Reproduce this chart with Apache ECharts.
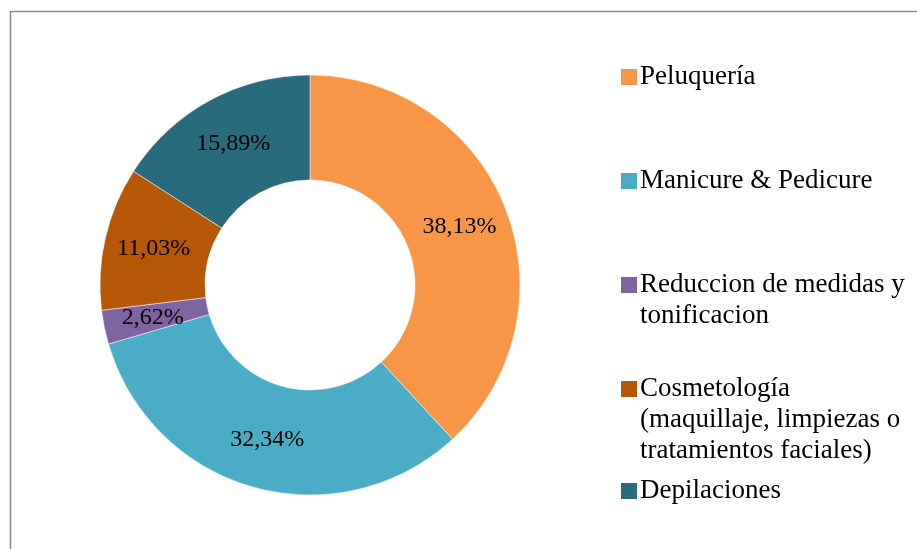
<!DOCTYPE html>
<html>
<head>
<meta charset="utf-8">
<script src="https://cdn.jsdelivr.net/npm/echarts@6/dist/echarts.min.js"></script>
<style>
  html, body {margin: 0; padding: 0; background: #fff;}
  #chart {width: 917px; height: 549px;}
</style>
</head>
<body>
<div id="chart"></div>
<script>
// categories, legend text (with line breaks as in the picture), values and colours
const categories = ['Peluquería', 'Manicure & Pedicure', 'Reduccion de medidas y tonificacion',
  'Cosmetología (maquillaje, limpiezas o tratamientos faciales)', 'Depilaciones']
const legendText = ['Peluquería', 'Manicure & Pedicure', 'Reduccion de medidas y\ntonificacion',
  'Cosmetología\n(maquillaje, limpiezas o\ntratamientos faciales)', 'Depilaciones']
const values = [38.13, 32.34, 2.62, 11.03, 15.89]
const colors = ['#F79646', '#4BACC6', '#8064A2', '#B65708', '#286B7C']
// vertical centre of each legend square
const legendY = [77, 181, 285, 389, 491]

const FONT = '"Times New Roman", "Liberation Serif", serif'
const LH = 31

const chart = echarts.init(document.getElementById('chart'))

// one legend per entry, so every square sits exactly where it is in the picture.
// blank lines are put above a wrapped text so that its first line is level with the square
const legends = categories.map((name, i) => {
	const lines = legendText[i].split('\n').length
	return {
		data: [name],
		orient: 'vertical',
		left: 619,
		top: legendY[i] - (2 * lines - 1) * LH / 2,
		padding: 0,
		itemWidth: 18,
		itemHeight: 18,
		itemGap: 0,
		icon: 'rect',
		selectedMode: false,
		formatter: () => '\n'.repeat(lines - 1) + legendText[i],
		textStyle: {
			fontFamily: FONT,
			fontSize: 27,
			color: '#000',
			lineHeight: LH,
			padding: [0, 0, 0, -3]
		}
	}
})

chart.setOption({
	animation: false,
	color: colors,
	legend: legends,
	graphic: [{
		type: 'rect',
		shape: {x: 10.5, y: 11.5, width: 1200, height: 1000},
		style: {fill: 'none', stroke: '#8a8a8a', lineWidth: 1.5},
		silent: true
	}],
	series: [{
		type: 'pie',
		center: [310, 285],
		radius: [105, 210],
		startAngle: 90,
		clockwise: true,
		avoidLabelOverlap: false,
		emphasis: {disabled: true},
		itemStyle: {borderColor: '#fff', borderWidth: 0.5},
		label: {
			show: true,
			position: 'inside',
			fontFamily: FONT,
			fontSize: 24,
			color: '#000',
			formatter: p => p.value.toFixed(2).replace('.', ',') + '%'
		},
		labelLine: {show: false},
		data: categories.map((name, i) => ({name: name, value: values[i]}))
	}]
})
</script>
</body>
</html>
